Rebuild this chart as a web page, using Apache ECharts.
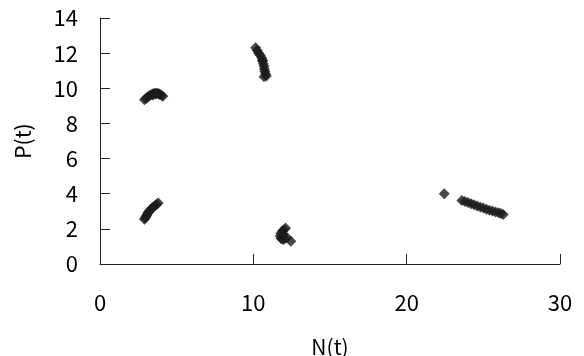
<!DOCTYPE html>
<html>
<head>
<meta charset="utf-8">
<script src="https://cdn.jsdelivr.net/npm/echarts@6/dist/echarts.min.js"></script>
<style>
  html, body { margin: 0; padding: 0; background: #fff; }
  #chart { width: 584px; height: 356px; }
</style>
</head>
<body>
<div id="chart"></div>
<script>
// N(t) - P(t) のプロット（各クラスタの点を目視で読み取り）
const nValues = [
  // 左上
  2.9, 3.0, 3.1, 3.2, 3.3, 3.4, 3.5, 3.6, 3.7, 3.8, 3.9, 4.0, 4.1, 3.45, 3.65, 3.85,
  // 左下
  2.9, 2.95, 3.0, 3.05, 3.1, 3.15, 3.2, 3.3, 3.4, 3.5, 3.6, 3.7, 3.8,
  // 中央上
  10.15, 10.25, 10.35, 10.45, 10.55, 10.6, 10.65, 10.7, 10.72, 10.75, 10.8, 10.85, 10.7, 10.6,
  // 中央下
  12.1, 12.0, 11.9, 11.8, 11.75, 11.8, 11.85, 11.95, 12.05, 12.2, 12.45, 11.95,
  // 右
  22.45, 23.6, 23.8, 24.0, 24.2, 24.4, 24.6, 24.8, 25.0, 25.2, 25.4, 25.6, 25.8, 26.0, 26.15, 26.3
]
const pValues = [
  9.35, 9.42, 9.5, 9.56, 9.62, 9.66, 9.7, 9.72, 9.72, 9.7, 9.66, 9.6, 9.55, 9.62, 9.68, 9.66,
  2.55, 2.62, 2.7, 2.78, 2.86, 2.94, 3.0, 3.1, 3.18, 3.26, 3.33, 3.4, 3.47,
  12.3, 12.15, 12.0, 11.88, 11.72, 11.55, 11.4, 11.25, 11.1, 10.95, 10.82, 10.7, 10.65, 11.6,
  2.05, 1.95, 1.88, 1.75, 1.6, 1.48, 1.42, 1.4, 1.45, 1.5, 1.3, 1.7,
  4.0, 3.62, 3.56, 3.5, 3.43, 3.37, 3.3, 3.24, 3.18, 3.12, 3.06, 3.01, 2.96, 2.91, 2.87, 2.82
]
const nTicks = [0, 10, 20, 30]
const pTicks = [0, 2, 4, 6, 8, 10, 12, 14]

const points = nValues.map((n, i) => [n, pValues[i]])
const labelFont = 'Noto Sans CJK JP'

const myChart = echarts.init(document.getElementById('chart'))
myChart.setOption({
  animation: false,
  grid: {
    left: 100,
    right: 24,
    top: 18,
    bottom: 92,
    containLabel: false,
    outerBoundsMode: 'none'
  },
  xAxis: {
    type: 'value',
    min: nTicks[0],
    max: nTicks[nTicks.length - 1],
    interval: 10,
    name: 'N(t)',
    nameLocation: 'middle',
    nameGap: 73,
    nameTextStyle: { color: '#000', fontSize: 21, fontFamily: labelFont },
    axisLine: { show: true, lineStyle: { color: '#222', width: 1 } },
    axisTick: { show: true, inside: true, length: 10, lineStyle: { color: '#222' } },
    axisLabel: { color: '#000', fontSize: 22, fontFamily: labelFont, margin: 28 },
    splitLine: { show: false }
  },
  yAxis: {
    type: 'value',
    min: pTicks[0],
    max: pTicks[pTicks.length - 1],
    interval: 2,
    name: 'P(t)',
    nameLocation: 'middle',
    nameGap: 66,
    nameRotate: 90,
    nameTextStyle: { color: '#000', fontSize: 21, fontFamily: labelFont },
    axisLine: { show: true, lineStyle: { color: '#222', width: 1 } },
    axisTick: { show: true, inside: true, length: 10, lineStyle: { color: '#222' } },
    axisLabel: { color: '#000', fontSize: 22, fontFamily: labelFont, margin: 22 },
    splitLine: { show: false }
  },
  series: [
    {
      type: 'scatter',
      data: points,
      symbol: 'diamond',
      symbolSize: 11,
      itemStyle: { color: '#1c1c1c' }
    }
  ]
})
</script>
</body>
</html>
